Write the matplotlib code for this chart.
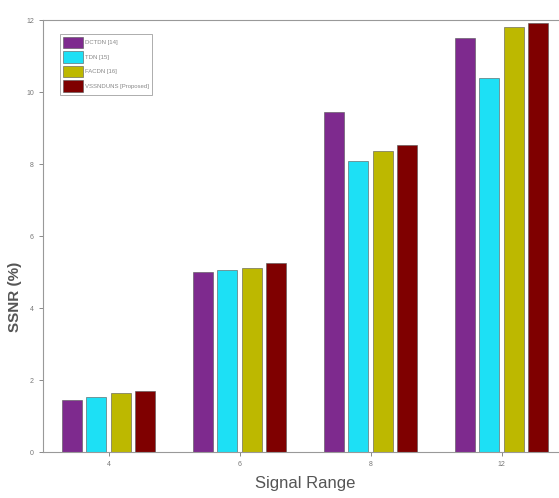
import numpy as np
import matplotlib
matplotlib.use("Agg")
import matplotlib.pyplot as plt

plt.rcParams['font.family'] = ['Liberation Sans Narrow', 'Liberation Sans', 'DejaVu Sans']

ranges = ["4", "6", "8", "12"]
methods = ["DCTDN [14]", "TDN [15]", "FACDN [16]", "VSSNDUNS [Proposed]"]
dctdn = [1.45, 5.0, 9.45, 11.5]
tdn = [1.52, 5.05, 8.08, 10.4]
facdn = [1.63, 5.1, 8.35, 11.8]
proposed = [1.7, 5.25, 8.52, 11.93]
colors = ["#7e2a8e", "#1de0f5", "#bdb800", "#7f0000"]

fig = plt.figure(figsize=(5.59, 4.98), dpi=100)
ax = fig.add_axes([43 / 559, 46 / 498, 524 / 559, 432 / 498])

x = np.arange(1, len(ranges) + 1)
slot = 0.187
series = [dctdn, tdn, facdn, proposed]
for i, vals in enumerate(series):
    ax.bar(x + (i - 1.5) * slot, vals, width=0.153, color=colors[i],
           edgecolor="#555555", linewidth=0.4, label=methods[i])

ax.set_xlim(0.5, 4.5)
ax.set_ylim(0, 12)
ax.set_xticks(x)
ax.set_xticklabels(ranges)
ax.set_yticks([0, 2, 4, 6, 8, 10, 12])
ax.tick_params(labelsize=5, colors="#777777", length=3, width=0.6)
for s in ax.spines.values():
    s.set_color("#999999")
    s.set_linewidth(0.8)

ax.set_xlabel("Signal Range", fontsize=12, color="#555555", labelpad=6)
ax.set_ylabel("SSNR (%)", fontsize=11, color="#555555", labelpad=8,
              fontweight="semibold")
ax.yaxis.set_label_coords(-0.04, 0.36)

leg = ax.legend(loc="upper left", fontsize=4.3, frameon=True, fancybox=False,
                bbox_to_anchor=(0.026, 0.975), handlelength=3.4, handleheight=2.6,
                labelspacing=0.5, borderpad=0.5, handletextpad=0.3)
leg.get_frame().set_edgecolor("#888888")
leg.get_frame().set_linewidth(0.6)
for t in leg.get_texts():
    t.set_color("#888888")

fig.savefig("out.png", dpi=100)
